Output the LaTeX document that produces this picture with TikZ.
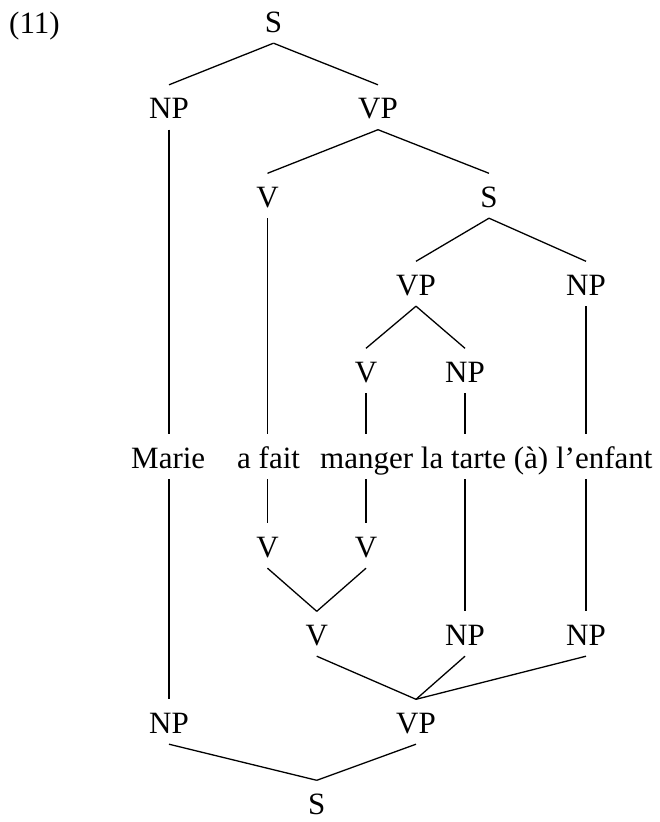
\documentclass[tikz,border=0pt]{standalone}
\usepackage{fontspec}
\setmainfont{Liberation Serif}
\begin{document}
\begin{tikzpicture}[x=1pt,y=-1pt,
  lab/.style={anchor=base, inner xsep=0pt, inner ysep=11pt, text height=22.5pt, text depth=0pt, font=\fontsize{31}{37}\selectfont},
  rootlab/.style={lab, inner ysep=1pt, text height=32.5pt},
  word/.style={anchor=base west, inner xsep=0pt, inner ysep=11pt, text height=22.5pt, text depth=0pt, font=\fontsize{31}{37}\selectfont},
  edge/.style={line width=1.3pt}]
\useasboundingbox (0,0) rectangle (660,822);
% example number
\node[word] (num) at (9,33) {(11)};
% upper tree
\node[lab] (S0) at (273.5,32) {S};
\node[lab] (NP1) at (169,118.5) {NP};
\node[lab] (VP1) at (378,118.5) {VP};
\node[lab] (V2) at (267.5,207) {V};
\node[lab] (S2) at (489,207) {S};
\node[lab] (VP3) at (416,295) {VP};
\node[lab] (NP3) at (586,295) {NP};
\node[lab] (V4) at (366,382) {V};
\node[lab] (NP4) at (465,382) {NP};
% words
\node[word] (marie) at (131,468) {Marie};
\node[word] (afait) at (237,468) {a fait};
\node[word] (manger) at (320,468) {manger};
\node[word] (tarte) at (420.7,468) {la tarte};
\node[word] (prep) at (513.7,468) {(à)};
\node[word] (enfant) at (555.9,468) {l’enfant};
% lower tree
\node[lab] (V6a) at (267.5,557) {V};
\node[lab] (V6b) at (366,557) {V};
\node[lab] (V7) at (316.75,645) {V};
\node[lab] (NP7a) at (465,645) {NP};
\node[lab] (NP7b) at (586,645) {NP};
\node[lab] (NP8) at (169,733) {NP};
\node[lab] (VP8) at (416,733) {VP};
\node[rootlab] (S9) at (316.75,814) {S};
% upper edges
\draw[edge] (S0.south) -- (NP1.north);
\draw[edge] (S0.south) -- (VP1.north);
\draw[edge] (NP1.south) -- (NP1.south |- marie.north);
\draw[edge] (VP1.south) -- (V2.north);
\draw[edge] (VP1.south) -- (S2.north);
\draw[edge] (V2.south) -- (V2.south |- afait.north);
\draw[edge] (S2.south) -- (VP3.north);
\draw[edge] (S2.south) -- (NP3.north);
\draw[edge] (NP3.south) -- (NP3.south |- enfant.north);
\draw[edge] (VP3.south) -- (V4.north);
\draw[edge] (VP3.south) -- (NP4.north);
\draw[edge] (V4.south) -- (V4.south |- manger.north);
\draw[edge] (NP4.south) -- (NP4.south |- tarte.north);
% lower edges
\draw[edge] (NP8.north |- marie.south) -- (NP8.north);
\draw[edge] (V6a.north |- afait.south) -- (V6a.north);
\draw[edge] (V6b.north |- manger.south) -- (V6b.north);
\draw[edge] (NP7a.north |- tarte.south) -- (NP7a.north);
\draw[edge] (NP7b.north |- enfant.south) -- (NP7b.north);
\draw[edge] (V6a.south) -- (V7.north);
\draw[edge] (V6b.south) -- (V7.north);
\draw[edge] (V7.south) -- (VP8.north);
\draw[edge] (NP7a.south) -- (VP8.north);
\draw[edge] (NP7b.south) -- (VP8.north);
\draw[edge] (NP8.south) -- (S9.north);
\draw[edge] (VP8.south) -- (S9.north);
\end{tikzpicture}
\end{document}
